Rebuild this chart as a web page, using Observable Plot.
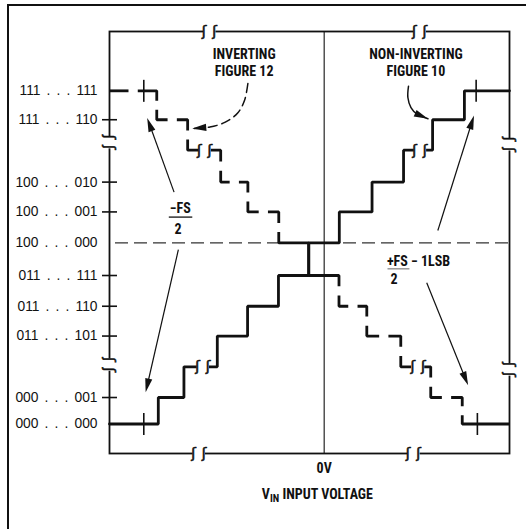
<!DOCTYPE html>
<html><head><meta charset="utf-8">
<script src="https://cdn.jsdelivr.net/npm/d3@7"></script>
<script src="https://cdn.jsdelivr.net/npm/@observablehq/plot@0.6"></script>
<style>
html,body{margin:0;padding:0;background:#fff;}
#wrap{position:relative;width:526px;height:529px;overflow:hidden;}
#chart{position:absolute;left:0;top:0;}
#border{position:absolute;left:7px;top:4px;width:600px;height:600px;border-top:2px solid #111;border-left:2.5px solid #111;z-index:2;pointer-events:none;}
</style></head><body>
<div id="wrap"><div id="chart"></div><div id="border"></div></div>
<script>
// ---- data (x in LSB steps from 0V, y in code steps) ----
const codeLabels = ["000 . . . 000","000 . . . 001","011 . . . 101","011 . . . 110","011 . . . 111","100 . . . 000","100 . . . 001","100 . . . 010","111 . . . 110","111 . . . 111"];
const codeLevels = [0, 0.87, 2.89, 3.87, 4.88, 5.95, 6.97, 7.95, 10.0, 10.95];
const tickedLevels = [0.87, 2.89, 3.87, 4.88, 6.97, 7.95, 10.0];
const stairLevels = [0, 0.87, 1.88, 2.89, 3.87, 4.88, 5.95, 6.97, 7.95, 9.0, 10.0, 10.95];
const nonInvRisers = [-5.37, -4.54, -3.46, -2.48, -1.48, -0.5, 0.49, 1.55, 2.57, 3.51, 4.54];
const invRisers = [-5.42, -4.42, -3.35, -2.47, -1.47, -0.5, 0.48, 1.38, 2.48, 3.45, 4.47];
const midCode = 5.95;
const xDomain = [-6.95, 6.0];
const yDomain = [-0.97, 12.9];
const crossX = [-5.84, -5.84, 4.92, 4.96];
const crossY = [0, 10.95, 10.95, 0];
const hBreakX = [-3.72, 3.09, -4.06, 2.89, -3.93, 3.10, -3.87, 3.04];
const hBreakY = [12.9, 12.9, -0.97, -0.97, 1.88, 9.0, 9.0, 1.88];
const vBreakX = [-6.95, -6.95, 6.0, 6.0];
const vBreakY = [9.26, 1.95, 9.19, 1.79];
const arrowFromX = [-4.86, -4.72, 3.68, 3.32];
const arrowFromY = [7.62, 5.73, 6.36, 4.64];
const arrowToX = [-5.73, -5.78, 4.85, 4.66];
const arrowToY = [10.06, 1.04, 10.14, 1.27];
const invArrowX = [-2.47, -2.58, -2.80, -3.20, -3.70, -4.27];
const invArrowY = [11.19, 10.63, 10.22, 9.92, 9.76, 9.71];
const niArrowX = [2.73, 2.71, 2.81, 3.00, 3.36];
const niArrowY = [11.10, 10.73, 10.40, 10.19, 10.03];
const titleLines = ["INVERTING", "FIGURE 12", "NON-INVERTING", "FIGURE 10"];
const titleX = [-2.59, -2.59, 2.97, 2.97];
const titleY = [12.15, 11.6, 12.13, 11.58];

// ---- layout ----
const W = 526, H = 529, mL = 109, mR = 17, mT = 31, mB = 76;
const kx = (W - mL - mR) / (xDomain[1] - xDomain[0]);
const ky = (H - mT - mB) / (yDomain[1] - yDomain[0]);
const INK = "#111";
const LABEL_FONT = "'Liberation Sans', Arial, Helvetica, sans-serif";
const ANNOT_FONT = "'Liberation Sans Narrow', 'Arial Narrow', 'Roboto Condensed', 'DejaVu Sans Condensed', 'Liberation Sans', sans-serif";

// non-inverting step path
const niYs = [...stairLevels, stairLevels[stairLevels.length - 1]];
const niRows = [xDomain[0], ...nonInvRisers, xDomain[1]].map((x, i) => ({x, y: niYs[i]}));

// inverting path, drawn as dashes centred on corners
const invV = [[xDomain[0], stairLevels[11]]];
invRisers.forEach((r, i) => { invV.push([r, stairLevels[11 - i]]); invV.push([r, stairLevels[10 - i]]); });
invV.push([xDomain[1], stairLevels[0]]);
const invSolid = new Set([10, 11, 12, 22]);
const gap = 0.3;
const invRows = []; let gid = 0; let cur = [invV[0]];
for (let k = 0; k < invV.length - 1; k++) {
  const [ax, ay] = invV[k], [bx, by] = invV[k + 1];
  if (invSolid.has(k)) { cur.push([bx, by]); continue; }
  const len = Math.hypot(bx - ax, by - ay);
  const ux = (bx - ax) / len, uy = (by - ay) / len, h = (len - gap) / 2;
  cur.push([ax + ux * h, ay + uy * h]);
  cur.forEach(p => invRows.push({x: p[0], y: p[1], z: gid}));
  gid++;
  cur = [[bx - ux * h, by - uy * h], [bx, by]];
}
cur.forEach(p => invRows.push({x: p[0], y: p[1], z: gid}));

// break marks
const bw = 0.2;
const erasers = [
  ...hBreakX.map((x, i) => ({x1: x - bw, x2: x + bw, y1: hBreakY[i], y2: hBreakY[i]})),
  ...vBreakX.map((x, i) => ({x1: x, x2: x, y1: vBreakY[i] - bw, y2: vBreakY[i] + bw}))
];
const so = 0.17;
const hSquig = hBreakX.flatMap((x, i) => [{x: x - so, y: hBreakY[i]}, {x: x + so, y: hBreakY[i]}]);
const vSquig = vBreakX.flatMap((x, i) => [{x, y: vBreakY[i] - so}, {x, y: vBreakY[i] + so}]);

// arrows
const shaftBack = 6; // px
const angleOf = (dx, dy) => Math.atan2(dx * kx, dy * ky) * 180 / Math.PI;
const straight = arrowFromX.map((x, i) => {
  const dx = arrowToX[i] - x, dy = arrowToY[i] - arrowFromY[i];
  const lp = Math.hypot(dx * kx, dy * ky);
  return {x1: x, y1: arrowFromY[i], x2: arrowToX[i] - dx * shaftBack / lp, y2: arrowToY[i] - dy * shaftBack / lp,
          tx: arrowToX[i], ty: arrowToY[i], angle: angleOf(dx, dy)};
});
const curveHead = (X, Y) => {
  const n = X.length;
  return {tx: X[n - 1], ty: Y[n - 1], angle: angleOf(X[n - 1] - X[n - 2], Y[n - 1] - Y[n - 2])};
};
const heads = [...straight.map(d => ({tx: d.tx, ty: d.ty, angle: d.angle})), curveHead(invArrowX, invArrowY), curveHead(niArrowX, niArrowY)];
const headSymbol = {draw(ctx) { ctx.moveTo(0, 0); ctx.lineTo(3.6, 14); ctx.lineTo(-3.6, 14); ctx.closePath(); }};

const tickHalf = 7.5 / kx;
const crossHalf = 11 / ky;
const annot = {fontSize: 14, fontWeight: "bold", fontFamily: ANNOT_FONT, fill: INK};

const plot = Plot.plot({
  width: W, height: H,
  marginLeft: mL, marginRight: mR, marginTop: mT, marginBottom: mB,
  style: {background: "transparent", overflow: "visible"},
  x: {domain: xDomain, axis: null},
  y: {domain: yDomain, axis: null},
  marks: [
    Plot.frame({stroke: INK, strokeWidth: 1.8}),
    Plot.ruleX([0], {stroke: INK, strokeWidth: 1.1}),
    Plot.ruleY([midCode], {stroke: "#333", strokeWidth: 1.3, strokeDasharray: "13,6", strokeDashoffset: 13}),
    Plot.link(tickedLevels, {x1: () => xDomain[0] - tickHalf, x2: () => xDomain[0] + tickHalf, y1: d => d, y2: d => d, stroke: INK, strokeWidth: 1.6}),
    Plot.link(crossX, {x1: d => d, x2: d => d, y1: (d, i) => crossY[i] - crossHalf, y2: (d, i) => crossY[i] + crossHalf, stroke: INK, strokeWidth: 1.6}),
    Plot.line(niRows, {x: "x", y: "y", curve: "step-after", stroke: INK, strokeWidth: 2.8, strokeLinejoin: "miter"}),
    Plot.line(invRows, {x: "x", y: "y", z: "z", stroke: INK, strokeWidth: 2.8, strokeLinejoin: "miter", strokeLinecap: "butt"}),
    Plot.link(erasers, {x1: "x1", x2: "x2", y1: "y1", y2: "y2", stroke: "white", strokeWidth: 6}),
    Plot.text(hSquig, {x: "x", y: "y", text: () => "ʃ", fontFamily: "'DejaVu Sans', sans-serif", fontSize: 14, fill: INK, stroke: INK, strokeWidth: 0.6}),
    Plot.text(vSquig, {x: "x", y: "y", text: () => "ʃ", rotate: 90, fontFamily: "'DejaVu Sans', sans-serif", fontSize: 14, fill: INK, stroke: INK, strokeWidth: 0.6}),
    Plot.link(straight, {x1: "x1", y1: "y1", x2: "x2", y2: "y2", stroke: INK, strokeWidth: 1.2}),
    Plot.line(invArrowX.map((x, i) => ({x, y: invArrowY[i]})), {x: "x", y: "y", curve: "catmull-rom", stroke: INK, strokeWidth: 1.5, strokeDasharray: "9,5"}),
    Plot.line(niArrowX.map((x, i) => ({x, y: niArrowY[i]})), {x: "x", y: "y", curve: "catmull-rom", stroke: INK, strokeWidth: 1.5}),
    Plot.dot(heads, {x: "tx", y: "ty", rotate: "angle", symbol: headSymbol, fill: INK, stroke: "none"}),
    // code labels
    Plot.text(codeLevels, {x: () => xDomain[0], y: d => d, text: (d, i) => codeLabels[i], textAnchor: "end", dx: -12, fontSize: 13.8, fontFamily: LABEL_FONT, fill: INK}),
    // annotations
    Plot.text(titleLines, {x: (d, i) => titleX[i], y: (d, i) => titleY[i], text: d => d, ...annot}),
    Plot.text(["−FS"], {x: () => -4.66, y: () => 7.07, text: d => d, ...annot}),
    Plot.link([0], {x1: () => -5.03, x2: () => -4.27, y1: () => 6.8, y2: () => 6.8, stroke: INK, strokeWidth: 1.3}),
    Plot.text(["2"], {x: () => -4.73, y: () => 6.38, text: d => d, ...annot}),
    Plot.text(["+FS"], {x: () => 2.37, y: () => 5.35, text: d => d, ...annot}),
    Plot.link([0], {x1: () => 2.05, x2: () => 2.76, y1: () => 5.1, y2: () => 5.1, stroke: "#888", strokeWidth: 1.3}),
    Plot.text(["2"], {x: () => 2.26, y: () => 4.75, text: d => d, ...annot}),
    Plot.text(["− 1LSB"], {x: () => 2.81, y: () => 5.35, text: d => d, textAnchor: "start", ...annot}),
    Plot.text(["0V"], {x: () => 0, y: () => -1.47, text: d => d, ...annot}),
    Plot.text(["VIN INPUT VOLTAGE"], {x: () => -0.22, y: () => -2.31, text: d => d, ...annot})
  ]
});

// widen the dotted code labels and subscript "IN"
d3.select(plot).selectAll("text").each(function () {
  const t = this.textContent;
  if (/\. \./.test(t)) this.setAttribute("word-spacing", "2.3px");
  if (t === "VIN INPUT VOLTAGE") {
    this.textContent = "";
    const s = d3.select(this);
    s.append("tspan").text("V");
    s.append("tspan").attr("font-size", 10.5).attr("dy", 3).text("IN");
    s.append("tspan").attr("dy", -3).text(" INPUT VOLTAGE");
  }
});
document.getElementById("chart").appendChild(plot);
</script>
</body></html>
